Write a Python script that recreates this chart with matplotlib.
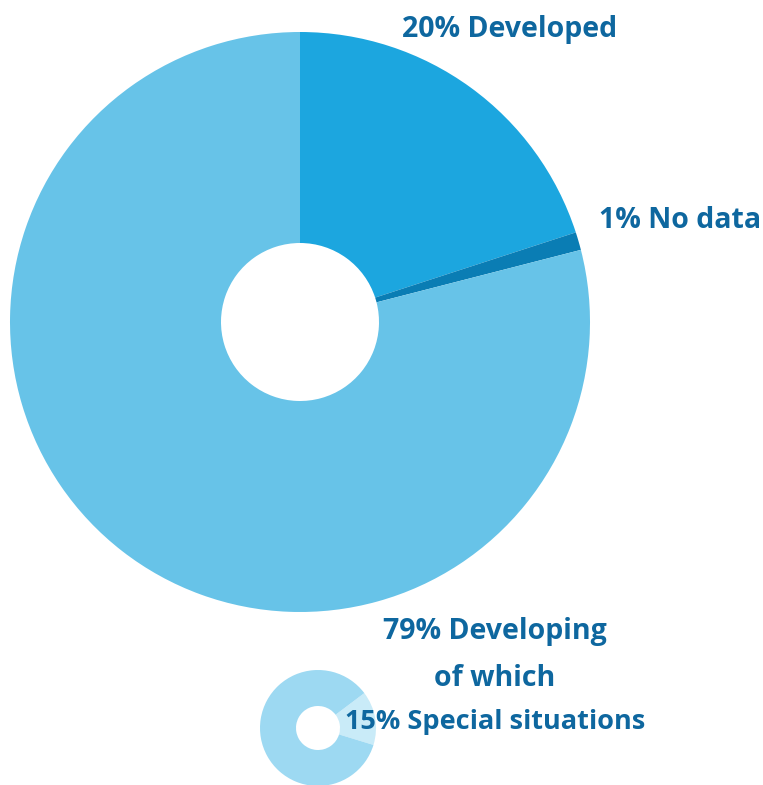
import matplotlib
matplotlib.use("Agg")
import matplotlib.pyplot as plt

# Data
main_labels = ["Developed", "No data", "Developing"]
main_values = [20, 1, 79]
main_colors = ["#1CA6DF", "#0A7DB4", "#67C3E8"]

sub_labels = ["Special situations", "Other developing"]
sub_values = [15, 85]
sub_colors = ["#C9EBF8", "#9DD9F2"]

text_color = "#0E679F"
W, H = 763, 785

fig = plt.figure(figsize=(W / 100, H / 100), dpi=100)
ax = fig.add_axes([0, 0, 1, 1])

# Main donut
ax.pie(main_values, colors=main_colors, startangle=90, counterclock=False,
       center=(300, H - 322), radius=290,
       wedgeprops=dict(width=211, linewidth=0), frame=True)

# Small donut (breakdown of developing)
ax.pie(sub_values, colors=sub_colors, startangle=37, counterclock=False,
       center=(318, H - 728), radius=58,
       wedgeprops=dict(width=36, linewidth=0), frame=True)

ax.set_xlim(0, W)
ax.set_ylim(0, H)
ax.set_aspect("equal")
ax.axis("off")

font = dict(family="Open Sans", fontweight="bold", color=text_color, fontsize=20.5)

ax.text(402, H - 29, f"{main_values[0]}% {main_labels[0]}", ha="left", va="center", **font)
ax.text(599, H - 221, f"{main_values[1]}% {main_labels[1]}", ha="left", va="center", **font)
ax.text(495, H - 632, f"{main_values[2]}% {main_labels[2]}", ha="center", va="center", **font)
ax.text(495, H - 678, "of which", ha="center", va="center", **font)
ax.text(495, H - 722, f"{sub_values[0]}% {sub_labels[0]}", ha="center", va="center",
        **{**font, "fontsize": 19.5})

fig.savefig("out.png", dpi=100)
